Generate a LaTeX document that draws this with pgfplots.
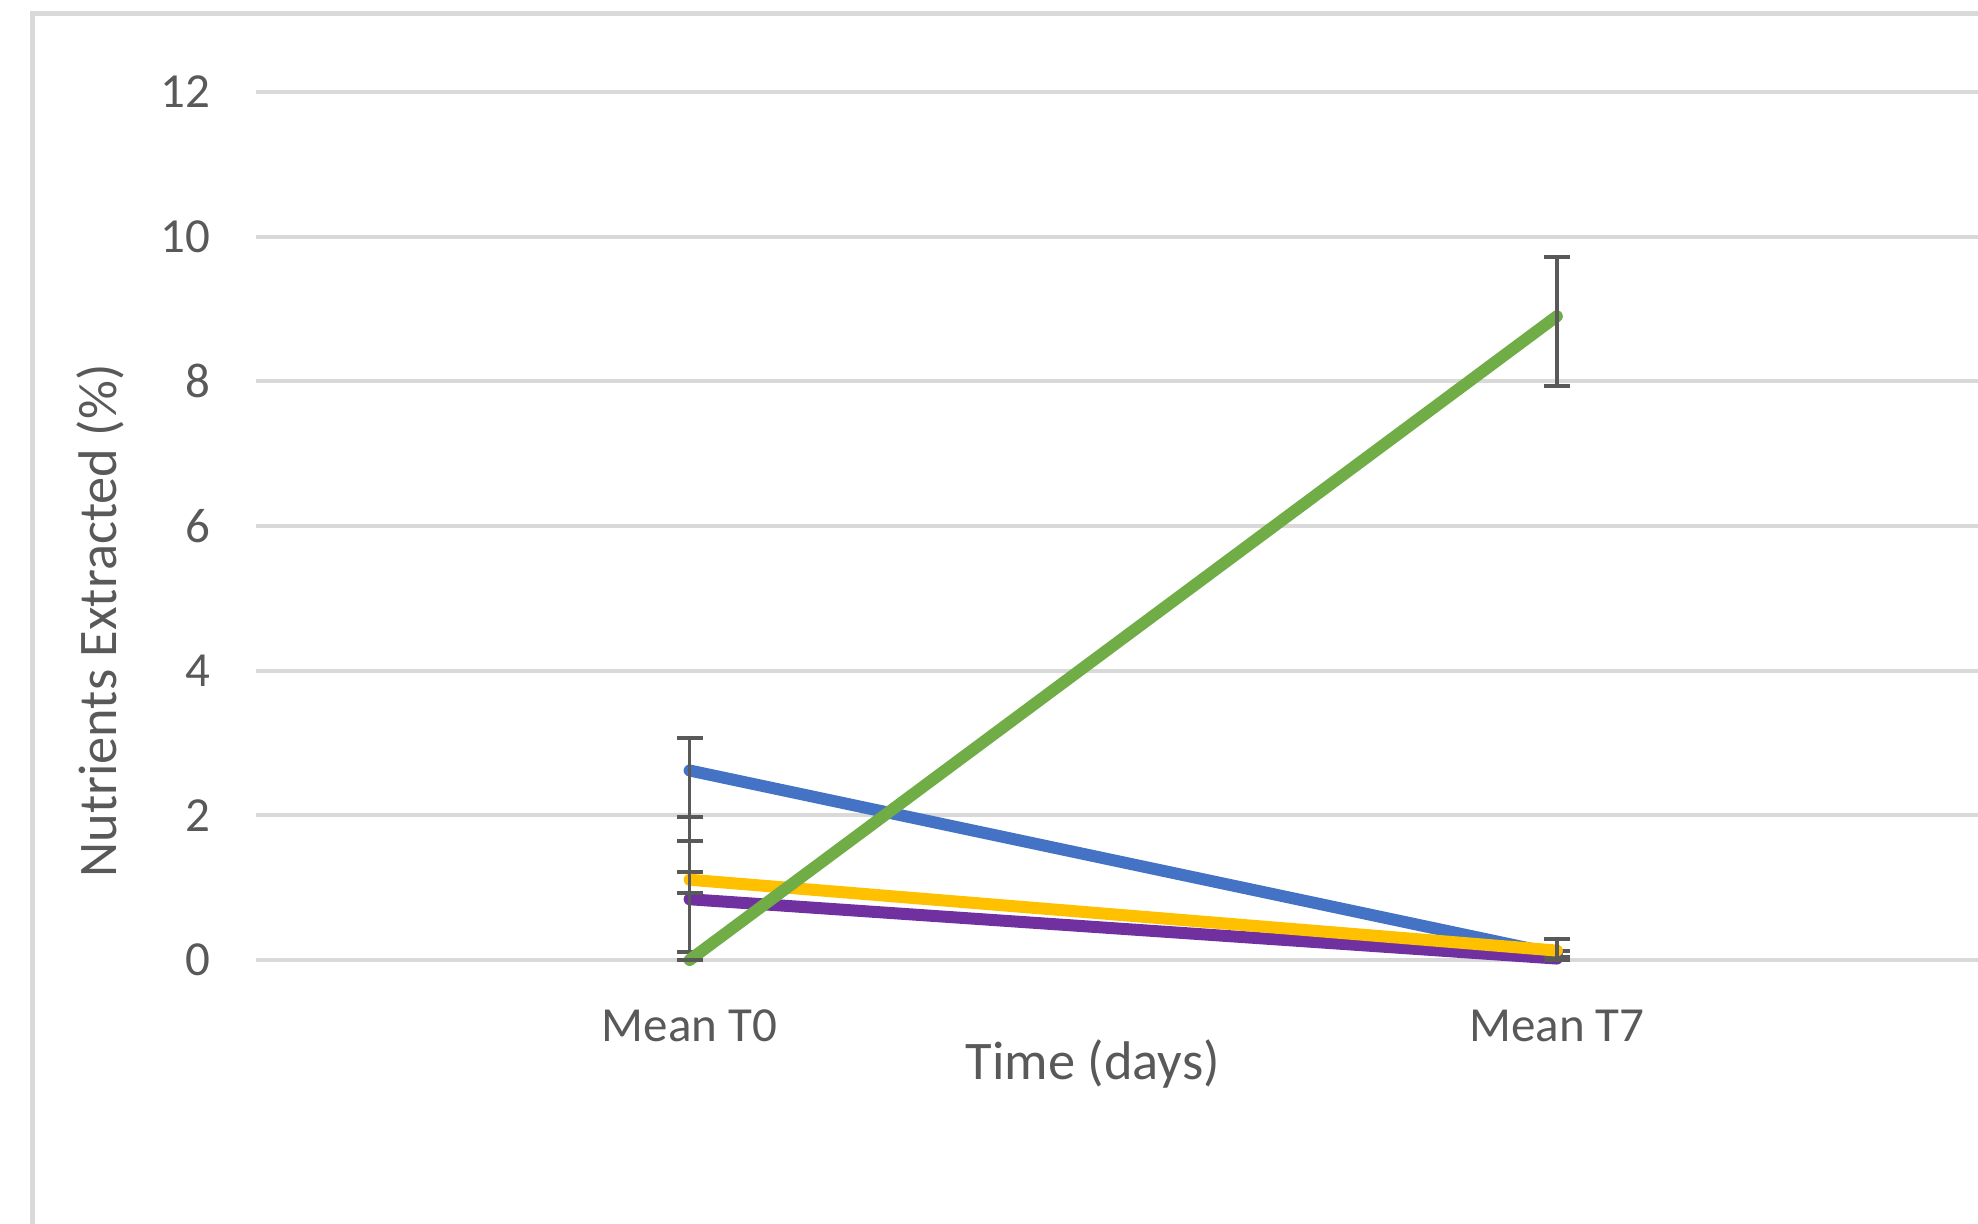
\documentclass[border=0pt]{standalone}
\usepackage{fontspec}
\setmainfont{Carlito}
\usepackage{pgfplots}
\pgfplotsset{compat=1.18}
\definecolor{cblue}{HTML}{4472C4}
\definecolor{cyellow}{HTML}{FFC000}
\definecolor{cgreen}{HTML}{70AD47}
\definecolor{cpurple}{HTML}{7030A0}
\definecolor{errgray}{HTML}{595959}
\definecolor{gridgray}{HTML}{D9D9D9}
\definecolor{txtgray}{HTML}{595959}
\pgfplotsset{
  serie/.style={line width=6pt, line cap=round, mark=none,
    error bars/.cd, y dir=both, y explicit,
    error bar style={errgray, line width=1.8pt, line cap=butt},
    error mark options={errgray, rotate=90, mark size=6.5pt, line width=2pt}}
}
\begin{document}
\begin{tikzpicture}
\useasboundingbox (-128pt,-131.5pt) rectangle (861pt,480pt);
\draw[gridgray, line width=2.5pt] (-111.75pt,-300pt) rectangle (1100pt,473.25pt);
\begin{axis}[
  at={(0pt,0pt)}, anchor=south west,
  scale only axis, width=861pt, height=434pt,
  xmin=-0.5, xmax=1.4856, ymin=0, ymax=12,
  xtick={0,1}, xticklabels={Mean T0, Mean T7},
  ytick={0,2,4,6,8,10,12},
  axis line style={draw=none},
  major tick length=0pt,
  ymajorgrids, major grid style={gridgray, line width=2pt},
  clip=false,
  /pgf/number format/assume math mode=true,
  yticklabel style={font=\fontsize{24.5}{29}\selectfont, color=txtgray, anchor=east, inner sep=0pt, xshift=-22.5pt},
  xticklabel style={font=\fontsize{24.5}{29}\selectfont, color=txtgray, anchor=center, inner sep=0pt, yshift=-33pt},
  xlabel={Time (days)},
  ylabel={Nutrients Extracted (\%)},
  xlabel style={font=\fontsize{27.2}{32}\selectfont, color=txtgray, at={(axis description cs:0.486,-0.1198)}, anchor=center, inner sep=0pt},
  ylabel style={font=\fontsize{27.2}{32}\selectfont, color=txtgray, at={(axis description cs:-0.0906,0.3906)}, anchor=center, rotate=0, inner sep=0pt},
]
\addplot[cblue, serie] coordinates {(0,2.62) += (0,0.45) -= (0,0.97) (1,0.08) += (0,0.05) -= (0,0.05)};
\addplot[cpurple, serie] coordinates {(0,0.84) += (0,0.37) -= (0,0.73) (1,0.02) += (0,0.02) -= (0,0.02)};
\addplot[cyellow, serie] coordinates {(0,1.11) += (0,0.87) -= (0,0.19) (1,0.13) += (0,0.16) -= (0,0.13)};
\addplot[cgreen, serie] coordinates {(0,0) += (0,0) -= (0,0) (1,8.9) += (0,0.82) -= (0,0.96)};
\end{axis}
\end{tikzpicture}
\end{document}
